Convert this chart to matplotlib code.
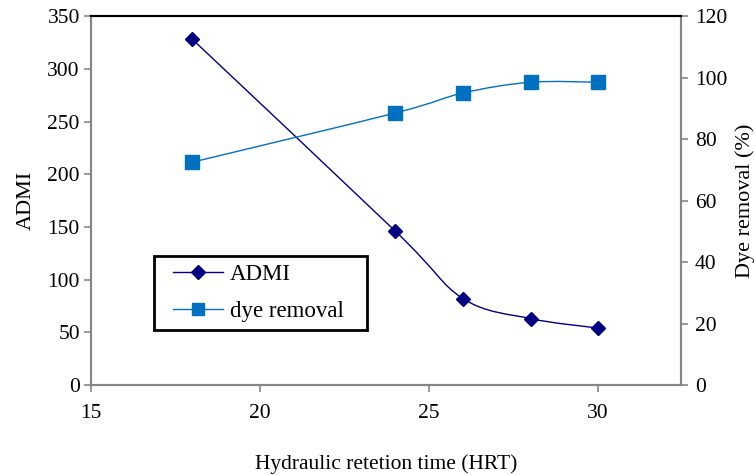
import numpy as np
import matplotlib
matplotlib.use("Agg")
import matplotlib.pyplot as plt
from matplotlib.path import Path
from matplotlib.patches import PathPatch
from matplotlib.lines import Line2D
from matplotlib.legend_handler import HandlerLine2D

plt.rcParams['font.family'] = ['Liberation Serif', 'DejaVu Serif']

# data
hrt = [18, 24, 26, 28, 30]
admi = [328, 146, 82, 63, 54]
dye_removal = [72.5, 88.5, 95, 98.5, 98.5]

navy = '#000080'
blue = '#0070C0'
gray = '#868686'


def smooth_path(xs, ys):
    # Excel-like smoothed line: cubic bezier through the points
    p = np.column_stack([xs, ys]).astype(float)
    n = len(p)
    verts = [p[0]]
    codes = [Path.MOVETO]
    for i in range(n - 1):
        p0 = p[i - 1] if i > 0 else p[i]
        p3 = p[i + 2] if i + 2 < n else p[i + 1]
        c1 = p[i] + (p[i + 1] - p0) / 6.0
        c2 = p[i + 1] - (p3 - p[i]) / 6.0
        verts += [c1, c2, p[i + 1]]
        codes += [Path.CURVE4] * 3
    return Path(verts, codes)


fig = plt.figure(figsize=(7.55, 4.75), dpi=100)
ax = fig.add_axes([0.1205, 0.1895, 0.7815, 0.7765])
ax2 = ax.twinx()

ax.add_patch(PathPatch(smooth_path(hrt, admi), facecolor='none',
                       edgecolor=navy, lw=1.0, zorder=2))
ax.plot(hrt, admi, linestyle='none', marker='D', ms=7.5, color=navy, zorder=3)

ax2.add_patch(PathPatch(smooth_path(hrt, dye_removal), facecolor='none',
                        edgecolor=blue, lw=1.0, zorder=2))
ax2.plot(hrt, dye_removal, linestyle='none', marker='s', ms=10.5, color=blue, zorder=3)

ax.set_xlim(15, 32.45)
ax.set_ylim(0, 350)
ax2.set_ylim(0, 120)
ax.set_xticks([15, 20, 25, 30])
ax.set_yticks(range(0, 351, 50))
ax2.set_yticks(range(0, 121, 20))

for a in (ax, ax2):
    for s in a.spines.values():
        s.set_color(gray)
        s.set_linewidth(1.5)
    a.spines['top'].set_color('black')
    a.tick_params(direction='out', length=5, width=1.2, color=gray,
                  labelsize=15.5, pad=5)
ax.tick_params(axis='x', pad=9)
ax.tick_params(axis='y', pad=3)

ax.set_ylabel('ADMI', fontsize=16, labelpad=8)
ax2.set_ylabel('Dye removal (%)', fontsize=16, labelpad=6)
ax.set_xlabel('Hydraulic retetion time (HRT)', fontsize=15.5, labelpad=22)

handles = [Line2D([], [], color=navy, lw=1.0, marker='D', ms=7.5),
           Line2D([], [], color=blue, lw=1.0, marker='s', ms=9)]
leg = ax2.legend(handles, ['ADMI', 'dye removal'], loc='upper left',
                 bbox_to_anchor=(0.107, 0.152, 0.361, 0.198), mode='expand',
                 borderaxespad=0, fontsize=16.5, fancybox=False, framealpha=1,
                 handlelength=2.65, handletextpad=0.3, labelspacing=0.68,
                 borderpad=0.36,
                 handler_map={Line2D: HandlerLine2D(xpad=0.45)})
leg.get_frame().set_edgecolor('black')
leg.get_frame().set_linewidth(2)

fig.savefig('out.png', dpi=100)
